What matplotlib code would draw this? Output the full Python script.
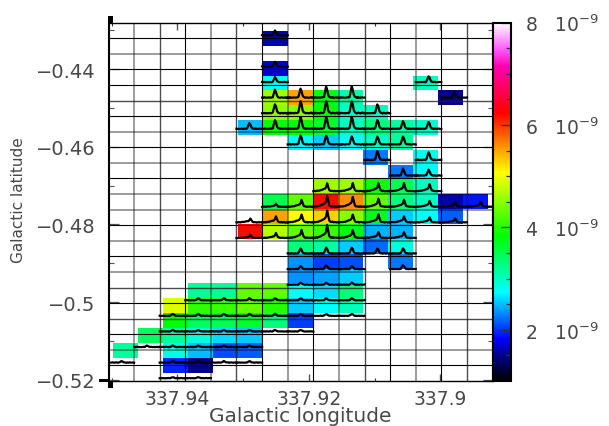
import numpy as np
import matplotlib
matplotlib.use("Agg")
import matplotlib.pyplot as plt
from matplotlib.colors import LinearSegmentedColormap
from matplotlib.patches import Rectangle

W, H = 609, 427
_ = np.nan

# Integrated intensity per map cell, in units of 1e-9 (rows top to bottom, 15 columns)
cell_values = [
 [_,_,_,_,_,_,1.6,_,_,_,_,_,_,_,_],
 [_]*15,
 [_,_,_,_,_,_,1.7,_,_,_,_,_,_,_,_],
 [_,_,_,_,_,_,2.75,_,_,_,_,_,3.0,_,_],
 [_,_,_,_,_,_,4.6,5.5,3.75,3.1,_,_,_,1.5,_],
 [_,_,_,_,_,_,4.5,4.5,3.85,3.0,3.0,_,_,_,_],
 [_,_,_,_,_,2.5,3.85,3.85,3.65,3.0,3.3,3.15,2.95,_,_],
 [_,_,_,_,_,_,_,2.75,2.55,2.75,2.95,3.15,_,_,_],
 [_,_,_,_,_,_,_,_,_,_,2.25,_,2.8,_,_],
 [_,_,_,_,_,_,_,_,_,_,_,2.25,2.75,_,_],
 [_,_,_,_,_,_,_,_,4.6,4.6,3.9,3.45,3.0,_,_],
 [_,_,_,_,_,_,3.5,4.3,6.2,5.6,4.3,3.3,3.0,1.6,1.9],
 [_,_,_,_,_,_,5.5,5.05,5.3,4.5,3.7,2.55,2.75,2.15,_],
 [_,_,_,_,_,6.2,4.7,4.3,4.1,3.75,2.45,2.45,_,_,_],
 [_,_,_,_,_,_,_,3.3,3.15,2.55,2.2,2.9,_,_,_],
 [_,_,_,_,_,_,_,2.35,2.05,2.1,_,2.25,_,_,_],
 [_,_,_,_,_,_,_,2.35,2.4,2.55,_,_,_,_,_],
 [_,_,_,3.2,3.2,4.3,4.3,2.75,2.6,3.3,_,_,_,_,_],
 [_,_,4.9,4.05,4.1,4.3,4.0,2.55,2.75,3.05,_,_,_,_,_],
 [_,_,3.85,3.45,3.5,3.65,3.3,2.05,_,_,_,_,_,_,_],
 [_,3.45,3.15,2.9,2.6,2.55,_,_,_,_,_,_,_,_,_],
 [3.15,_,2.85,2.5,2.1,2.15,_,_,_,_,_,_,_,_,_],
 [_,_,1.95,1.5,_,_,_,_,_,_,_,_,_,_,_],
]

# Spectrum peak height per grid box (0 = no spectrum)
peak_heights = [
 [0,0,0,0,0,0,5,0,0,0,0,0,0,0,0],
 [0]*15,
 [0,0,0,0,0,0,5,0,0,0,0,0,0,0,0],
 [0,0,0,0,0,0,5,0,0,0,0,0,6,0,0],
 [0,0,0,0,0,0,8,9,11,11,0,0,0,6,0],
 [0,0,0,0,0,0,9,12,12,12,9,0,0,0,0],
 [0,0,0,0,0,6,9,12,12,12,9,8,7,0,0],
 [0,0,0,0,0,0,0,9,9,8,8,8,0,0,0],
 [0,0,0,0,0,0,0,0,0,0,9,0,8,0,0],
 [0,0,0,0,0,0,0,0,0,0,0,7,6,0,0],
 [0,0,0,0,0,0,0,0,8,8,8,8,7,0,0],
 [0,0,0,0,0,0,3,7,11,10,8,7,6,5,5],
 [0,0,0,0,0,4,6,8,12,8,8,6,5,4,0],
 [0,0,0,0,0,3,5,8,13,8,6,6,0,0,0],
 [0,0,0,0,0,0,0,5,6,6,5,5,0,0,0],
 [0,0,0,0,0,0,0,3,4,3,0,4,0,0,0],
 [0,0,0,0,0,0,0,2,2,2,0,0,0,0,0],
 [0,0,0,2,2,2,2,2,2,2,0,0,0,0,0],
 [0,0,2,2,2,2,2,2,2,2,0,0,0,0,0],
 [0,0,1.5,1.5,1.5,1.5,1.5,1.5,0,0,0,0,0,0,0],
 [0,1.5,1.5,1.5,1.5,1.5,0,0,0,0,0,0,0,0,0],
 [1.5,0,1.5,1.5,1.5,1.5,0,0,0,0,0,0,0,0,0],
 [0,0,1,1,0,0,0,0,0,0,0,0,0,0,0],
]

# Line profile shapes
narrow_profile = [.02,.0,.05,.0,.03,.02,.0,.04,.03,.02,.08,.55,1.0,.75,.25,.08,.04,.0,.05,.02,.0,.03,.05,.0,.02]
ramp_profile = [.0,.03,.02,.05,.04,.07,.1,.14,.18,.23,.28,.34,.5,1.0,.55,.14,.06,.03,.05,.0,.04,.02,.0,.03,.02]
baseline_noise = [.4,.7,.2,.8,.5,.3,.7,.9,.3,.5,.9,.6,.2,.7,.3,.5,.8,.3,.7,.5,.2,.6,.4,.8,.5]
ramp_rows = [10, 11, 12, 13]

colour_values = [1.0, 1.5, 1.82, 2.73, 3.83, 5.07, 5.5, 6.24, 7.15, 7.5, 8.0]
colour_stops = ['#000000', '#00008c', '#0000ff', '#00ffff', '#00ff00', '#ffff00',
                '#ffa500', '#ff0000', '#ff00b0', '#ff60ff', '#ffffff']

x_major = [337.94, 337.92, 337.90]
x_major_labels = ['337.94', '337.92', '337.9']
x_minor = [337.95, 337.93, 337.91]
y_major = [-0.44, -0.46, -0.48, -0.50, -0.52]
y_major_labels = ['\u22120.44', '\u22120.46', '\u22120.48', '\u22120.5', '\u22120.52']
y_minor = [-0.43, -0.45, -0.47, -0.49, -0.51]
cbar_major = [2, 4, 6, 8]
cbar_minor = [1.5, 2.5, 3, 3.5, 4.5, 5, 5.5, 6.5, 7, 7.5]
cbar_labels = ['2   $10^{-9}$', '4   $10^{-9}$', '6   $10^{-9}$', '8   $10^{-9}$']

# Grid line shade: 'k' dark, 'g' faint (as resampled in the reference)
v_shade = ['g','d','k','g','d','k','g','k','g','d','k','g','k','d']
h_shade = ['k','g','k','k','d','k','g','k','g','k','g','g','k','g','k','g','d','k','d','k','g','k']

plt.rcParams['font.family'] = 'DejaVu Sans'
plt.rcParams['mathtext.default'] = 'regular'
TXT = '#484848'

L, R, T, B = 108.5, 492.5, 23.7, 382.0
fig = plt.figure(figsize=(W/100, H/100), dpi=100)
ax = fig.add_axes([L/W, 1-B/H, (R-L)/W, (B-T)/H])
XL = (337.9505, 337.89205)
YL = (-0.52031, -0.42808)
ax.set_xlim(*XL)
ax.set_ylim(*YL)

cmap = LinearSegmentedColormap.from_list(
    'cb', [((v-1.0)/7.0, c) for v, c in zip(colour_values, colour_stops)], N=512)

px_x = (XL[1]-XL[0])/(R-L)
px_y = (YL[1]-YL[0])/(B-T)

vals = np.ma.masked_invalid(np.array(cell_values, float))
x_edges = XL[0] + px_x*(113 - L + 25*np.arange(16))
y_edges = YL[1] + px_y*(-(32 - T) - 14.85*np.arange(24))
mesh = ax.pcolormesh(x_edges, y_edges, vals, cmap=cmap, vmin=1, vmax=8, zorder=1, linewidth=0, rasterized=True)

gx = np.linspace(XL[0], XL[1], 16)
gy = np.linspace(YL[1], YL[0], 24)
style = {'k': dict(color='#000000', lw=0.8, alpha=1.0),
         'd': dict(color='#202020', lw=1.0, alpha=0.8),
         'g': dict(color='#000000', lw=1.3, alpha=0.42)}
for x, s in zip(gx[1:-1], v_shade):
    ax.axvline(x, zorder=2, **style[s])
for y, s in zip(gy[1:-1], h_shade):
    ax.axhline(y, zorder=2, **style[s])

# Spectra
narrow = np.array(narrow_profile)
ramp = np.array(ramp_profile)
noise = np.array(baseline_noise)
frac = np.linspace(0, 1, narrow.size)
dx = gx[1]-gx[0]
for r, row in enumerate(peak_heights):
    for c, p in enumerate(row):
        if p == 0:
            continue
        shape = ramp if r in ramp_rows else narrow
        n = np.roll(noise, (r*7 + c*3))
        px_heights = 2.5 + p*shape + 0.6*n
        xs = gx[c] + frac*dx
        ys = gy[r+1] + px_heights*px_y
        ax.plot(xs, ys, color='black', lw=1.6, zorder=3, solid_joinstyle='round', clip_on=True)

# Axes cosmetics
ax.set_xticks(x_major)
ax.set_xticklabels(x_major_labels)
ax.set_xticks(x_minor, minor=True)
ax.set_yticks(y_major)
ax.set_yticklabels(y_major_labels)
ax.set_yticks(y_minor, minor=True)
ax.tick_params(axis='x', which='major', direction='in', top=True, bottom=True, length=5, width=1.0,
               color='#555555', labelsize=13.5, labelcolor=TXT, pad=5.5)
ax.tick_params(axis='x', which='minor', direction='in', top=True, bottom=True, length=2.5, width=0.8, color='#333333')
ax.tick_params(axis='y', which='major', direction='in', left=True, right=True, length=7.2, width=0.9,
               color='#555555', labelsize=14, labelcolor=TXT, pad=9.5)
ax.tick_params(axis='y', which='minor', direction='in', left=True, right=True, length=3.6, width=0.8, color='#555555')
for s in ax.spines.values():
    s.set_linewidth(1.0)
ax.spines['left'].set_linewidth(1.5)
ax.spines['right'].set_linewidth(1.5)

fig.text(300/W, 1-416.5/H, 'Galactic longitude', ha='center', va='center', fontsize=14.5, color=TXT)
fig.text(19/W, 1-200/H, 'Galactic latitude', ha='center', va='center', rotation=90, fontsize=11, color=TXT)

# Colour bar
cax = fig.add_axes([R/W, 1-B/H, 19/W, (B-T)/H])
cb = fig.colorbar(mesh, cax=cax)
cb.set_ticks(cbar_major)
cb.set_ticklabels(cbar_labels)
cb.ax.yaxis.set_ticks(cbar_minor, minor=True)
cax.tick_params(axis='y', which='major', direction='in', right=True, length=7.2, width=0.9,
                color='#333333', labelsize=13.5, labelcolor=TXT, pad=10)
cax.tick_params(axis='y', which='minor', direction='in', right=True, length=3.6, width=0.9, color='#333333')
cb.outline.set_linewidth(1.5)

# Corner marks
def block(x0, y0, x1, y1):
    fig.add_artist(Rectangle((x0/W, 1-y1/H), (x1-x0)/W, (y1-y0)/H, transform=fig.transFigure,
                             facecolor='black', edgecolor='none', zorder=10))
block(108, 17, 113, 24)
block(108, 382, 112.5, 389)
block(99, 379.5, 108, 383)

fig.savefig('out.png', dpi=100)
